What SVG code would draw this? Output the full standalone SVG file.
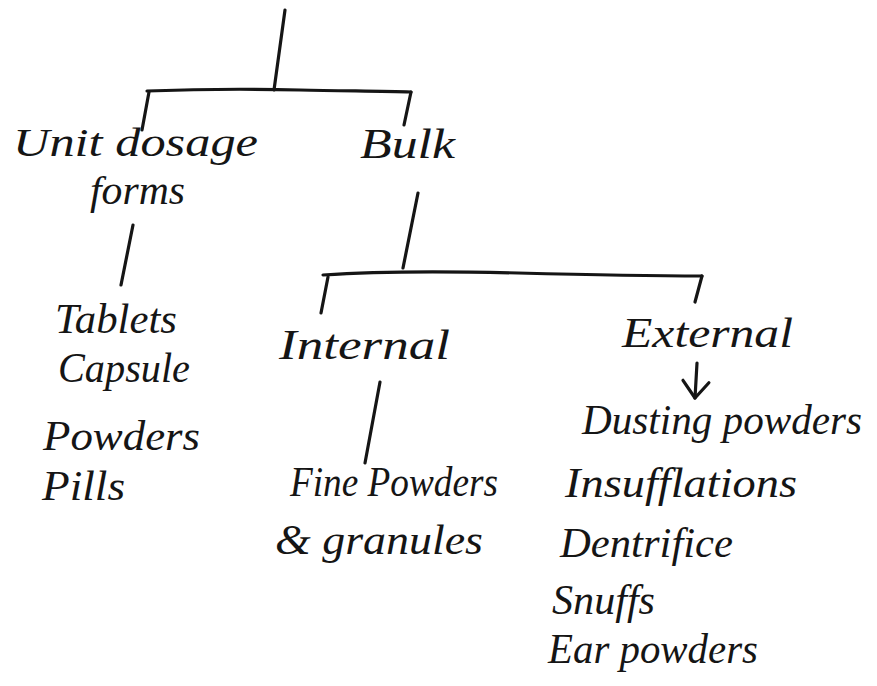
<svg xmlns="http://www.w3.org/2000/svg" width="877" height="686" viewBox="0 0 877 686">
<style>
.bg{fill:#ffffff}
.t{font-family:"Liberation Serif","DejaVu Serif",serif;font-style:italic;font-size:42px;fill:#151515}
.s{font-size:40px}
.c{fill:none;stroke:#151515;stroke-width:3.2;stroke-linecap:round;stroke-linejoin:round}
</style>
<defs>
<marker id="ah" markerUnits="userSpaceOnUse" markerWidth="34" markerHeight="34" refX="30" refY="17" orient="auto" viewBox="0 0 34 34">
<path d="M14,4 L30,17 L13,30" fill="none" stroke="#151515" stroke-width="3.2" stroke-linecap="round" stroke-linejoin="round"/>
</marker>
</defs>
<rect class="bg" x="0" y="0" width="877" height="686"/>
<g id="connectors">
<path class="c" d="M285,10 L274,90"/>
<path class="c" d="M147,91 C200,89 260,89 300,90 S380,91 411,92"/>
<path class="c" d="M149,92 L142,130"/>
<path class="c" d="M411,92 L404,125"/>
<path class="c" d="M133,225 L121,285"/>
<path class="c" d="M418,193 L403,268"/>
<path class="c" d="M323,275 C380,271 440,271 518,273 S640,276 702,276"/>
<path class="c" d="M328,277 L321,313"/>
<path class="c" d="M702,276 L695,302"/>
<path class="c" d="M380,382 L365,463"/>
<path class="c" d="M697,363 L695,398" marker-end="url(#ah)"/>
</g>
<g id="unit-dosage-forms">
<text class="t s" x="13" y="156" textLength="245" lengthAdjust="spacingAndGlyphs">Unit dosage</text>
<text class="t s" x="90" y="204" textLength="95" lengthAdjust="spacingAndGlyphs">forms</text>
</g>
<g id="bulk">
<text class="t" x="360" y="158" textLength="95" lengthAdjust="spacingAndGlyphs">Bulk</text>
</g>
<g id="unit-list">
<text class="t" x="55" y="333" textLength="122" lengthAdjust="spacingAndGlyphs">Tablets</text>
<text class="t" x="58" y="382" textLength="132" lengthAdjust="spacingAndGlyphs">Capsule</text>
<text class="t" x="43" y="450" textLength="157" lengthAdjust="spacingAndGlyphs">Powders</text>
<text class="t" x="42" y="500" textLength="83" lengthAdjust="spacingAndGlyphs">Pills</text>
</g>
<g id="internal">
<text class="t" x="279" y="359" textLength="171" lengthAdjust="spacingAndGlyphs">Internal</text>
</g>
<g id="external">
<text class="t" x="622" y="347" textLength="171" lengthAdjust="spacingAndGlyphs">External</text>
</g>
<g id="internal-list">
<text class="t" x="290" y="496" textLength="208" lengthAdjust="spacingAndGlyphs">Fine Powders</text>
<text class="t" x="275" y="554" textLength="208" lengthAdjust="spacingAndGlyphs">&amp; granules</text>
</g>
<g id="external-list">
<text class="t" x="582" y="434" textLength="280" lengthAdjust="spacingAndGlyphs">Dusting powders</text>
<text class="t" x="565" y="497" textLength="232" lengthAdjust="spacingAndGlyphs">Insufflations</text>
<text class="t" x="560" y="557" textLength="173" lengthAdjust="spacingAndGlyphs">Dentrifice</text>
<text class="t" x="552" y="614" textLength="103" lengthAdjust="spacingAndGlyphs">Snuffs</text>
<text class="t" x="548" y="663" textLength="210" lengthAdjust="spacingAndGlyphs">Ear powders</text>
</g>
</svg>
